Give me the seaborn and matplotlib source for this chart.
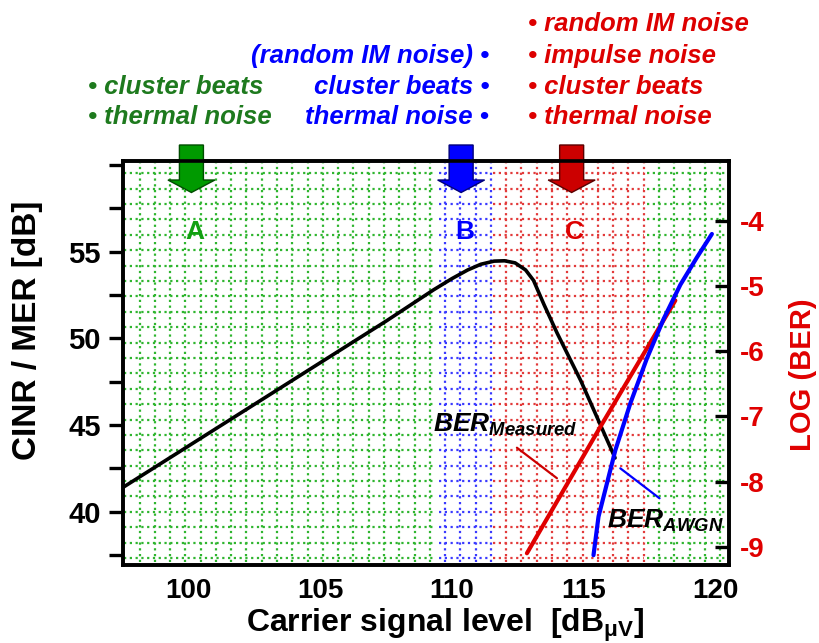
import numpy as np
import pandas as pd
import matplotlib
matplotlib.use("Agg")
import matplotlib.pyplot as plt
import matplotlib.transforms as mtransforms
from matplotlib.patches import Polygon
import seaborn as sns

# ---------------- data ----------------
cinr_x = [97.5, 100.0, 102.5, 105.0, 107.5, 108.0, 108.7, 109.3, 110.0, 110.6, 111.1, 111.6, 112.0, 112.4, 112.8, 113.1, 113.5, 114.0, 114.9, 116.2]
cinr_y = [41.4, 43.8, 46.2, 48.6, 51.0, 51.5, 52.2, 52.8, 53.45, 53.95, 54.28, 54.46, 54.48, 54.36, 53.95, 53.35, 51.95, 50.3, 47.55, 43.1]

ber_meas_x = [112.85, 115.64, 118.49]
ber_meas_y = [-9.10, -7.16, -5.22]

ber_awgn_x = [115.38, 115.57, 115.89, 116.21, 116.78, 117.41, 118.05, 118.68, 119.31, 119.88]
ber_awgn_y = [-9.13, -8.54, -8.03, -7.52, -6.80, -6.11, -5.50, -4.98, -4.56, -4.20]

x_ticks = [100, 105, 110, 115, 120]
y_ticks = [40, 45, 50, 55]
ber_ticks = [-9, -8, -7, -6, -5, -4]

region_bounds = [97.5, 109.45, 111.5, 117.35, 120.53]
region_names = ["green", "blue", "red", "green"]
arrow_x = [100.1, 110.35, 114.55]
arrow_letters = ["A", "B", "C"]

green_notes = ["• cluster beats", "• thermal noise"]
blue_notes = ["(random IM noise) •", "cluster beats •", "thermal noise •"]
red_notes = ["• random IM noise", "• impulse noise", "• cluster beats", "• thermal noise"]

# ---------------- style ----------------
sns.set_theme(style="white")
plt.rcParams["font.family"] = ["Liberation Sans", "DejaVu Sans"]
plt.rcParams["text.color"] = "black"
plt.rcParams["axes.labelcolor"] = "black"
plt.rcParams["xtick.color"] = "black"
plt.rcParams["ytick.color"] = "black"
plt.rcParams["mathtext.fontset"] = "custom"
plt.rcParams["mathtext.bfit"] = "Liberation Sans:bold:italic"
plt.rcParams["mathtext.it"] = "Liberation Sans:italic"
plt.rcParams["mathtext.bf"] = "Liberation Sans:bold"
plt.rcParams["mathtext.rm"] = "Liberation Sans"

W, H = 819, 643
fig = plt.figure(figsize=(W / 100, H / 100), dpi=100)
L, R, T, B = 123, 729, 161, 565
ax = fig.add_axes([L / W, 1 - B / H, (R - L) / W, (B - T) / H])
ax.set_facecolor("white")

XMIN, XMAX = 97.5, 120.53
YMIN, YMAX = 36.92, 60.24
ax.set_xlim(XMIN, XMAX)
ax.set_ylim(YMIN, YMAX)

grid_col = {"green": "#2fb52f", "blue": "#3a3aff", "red": "#e23a3a"}

# dotted background grid (decorative pattern, fixed pixel pitch)
px_x = (XMAX - XMIN) / (R - L)
px_y = (YMAX - YMIN) / (B - T)
vx = XMIN + (139.5 - L) * px_x
vlines = []
while vx < XMAX - 0.05:
    vlines.append(vx)
    vx += 15.28 * px_x
hy = YMAX - (173.3 - T) * px_y
hlines = []
while hy > YMIN + 0.1:
    hlines.append(hy)
    hy -= 15.39 * px_y

dot = (0, (1.0, 1.6))
for i, name in enumerate(region_names):
    x0, x1 = region_bounds[i], region_bounds[i + 1]
    c = grid_col[name]
    ax.hlines(hlines, x0 + 0.05, x1 - 0.05, colors=c, linestyles=dot, lw=1.6, zorder=1)
    xs = [v for v in vlines if x0 < v < x1]
    ax.vlines(xs, YMIN + 0.15, YMAX - 0.1, colors=c, linestyles=dot, lw=1.6, zorder=1)

# CINR curve
sns.lineplot(x=cinr_x, y=cinr_y, ax=ax, color="black", lw=2.6, zorder=5, sort=False)

# BER axis
ax2 = ax.twinx()
ax2.set_ylim(-9.28, -3.08)
sns.lineplot(x=ber_meas_x, y=ber_meas_y, ax=ax2, color="#e00000", lw=3.0, zorder=5)
sns.lineplot(x=ber_awgn_x, y=ber_awgn_y, ax=ax2, color="#0000ff", lw=3.0, zorder=6)

# ticks
ax.set_xticks(x_ticks)
ax.set_xticklabels([str(v) for v in x_ticks], fontsize=20, fontweight="bold", color="black")
ax.set_xticks(np.arange(97.5, 120.6, 2.5), minor=True)
ax.set_yticks(y_ticks)
ax.set_yticklabels([str(v) for v in y_ticks], fontsize=21, fontweight="bold", color="black")
ax.set_yticks(np.arange(37.5, 60.1, 2.5), minor=True)
ax.tick_params(axis="x", which="both", direction="in", length=10, width=2.4, pad=9, color="black")
ax.tick_params(axis="y", which="both", direction="out", length=10, width=2.4, pad=6, color="black")
ax.tick_params(axis="x", which="minor", labelbottom=False)
ax2.set_yticks(ber_ticks)
ax2.set_yticklabels(["-" + str(abs(v)) for v in ber_ticks], fontsize=20, fontweight="bold", color="#e00000")
ax2.tick_params(axis="y", which="both", direction="in", length=10, width=2.4, pad=8, color="black")
for a in (ax, ax2):
    for s in a.spines.values():
        s.set_linewidth(2.6)
        s.set_color("black")
        s.set_visible(True)

# axis labels
ax.set_xlabel(r"Carrier signal level  [dB$_{\mathbf{\mu V}}$]", fontsize=23, fontweight="bold", color="black")
ax.xaxis.set_label_coords(0.531, -0.149)
ax.xaxis.label.set_va("center")
ax.set_ylabel("CINR / MER [dB]", fontsize=24, fontweight="bold", color="black")
ax.yaxis.set_label_coords(-0.157, 0.582)
ax.yaxis.label.set_va("center")
ax2.set_ylabel("LOG (BER)", fontsize=21, fontweight="bold", color="#e00000", rotation=90)
ax2.yaxis.set_label_coords(1.122, 0.47)
ax2.yaxis.label.set_va("center")

# arrows above the plot
arrow_face = ["#009a00", "#0000ff", "#cc0000"]
arrow_edge = ["#004d00", "#00007a", "#5a0000"]
letter_col = ["#11a011", "#0000ff", "#dd0000"]
trans = mtransforms.blended_transform_factory(ax.transData, ax.transAxes)
sw, hw = 12.0 * px_x, 23.5 * px_x
y_top, y_head, y_tip = 1 + 16 / 404, 1 - 19 / 404, 1 - 31.5 / 404
for xa, letter, fc, ec, lc in zip(arrow_x, arrow_letters, arrow_face, arrow_edge, letter_col):
    pts = [(xa - sw, y_top), (xa + sw, y_top), (xa + sw, y_head), (xa + hw, y_head),
           (xa, y_tip), (xa - hw, y_head), (xa - sw, y_head)]
    ax.add_patch(Polygon(pts, closed=True, facecolor=fc, edgecolor=ec, lw=1.0,
                         transform=trans, clip_on=False, zorder=10))
    ax.text(xa + 0.12, 1 - 71 / 404, letter, transform=trans, ha="center", va="center",
            fontsize=19, fontweight="bold", color=lc, zorder=10)

# annotations
ax.text(109.29, 44.6, r"$\mathbfit{BER}_{\mathbfit{Measured}}$", fontsize=19, ha="left",
        va="baseline", color="black", zorder=8)
ax.plot([112.47, 113.99], [43.69, 41.93], color="#cc0000", lw=1.6, zorder=4)
ax.text(115.9, 39.06, r"$\mathbfit{BER}_{\mathbfit{AWGN}}$", fontsize=19, ha="left",
        va="baseline", color="black", zorder=8)
ax.plot([116.4, 117.89], [42.5, 40.77], color="#0000ff", lw=1.6, zorder=4)

# notes at the top
note_font = dict(fontsize=18.5, fontweight="bold", fontstyle="italic", va="center")
row_y = {0: 24, 1: 56, 2: 87, 3: 117}
for k, t in enumerate(green_notes):
    fig.text(88 / W, 1 - row_y[k + 2] / H, t, ha="left", color="#1e7a1e", **note_font)
for k, t in enumerate(blue_notes):
    fig.text(489 / W, 1 - row_y[k + 1] / H, t, ha="right", color="#0000ff", **note_font)
for k, t in enumerate(red_notes):
    fig.text(528 / W, 1 - row_y[k] / H, t, ha="left", color="#dd0000", **note_font)

fig.savefig("out.png", dpi=100)
